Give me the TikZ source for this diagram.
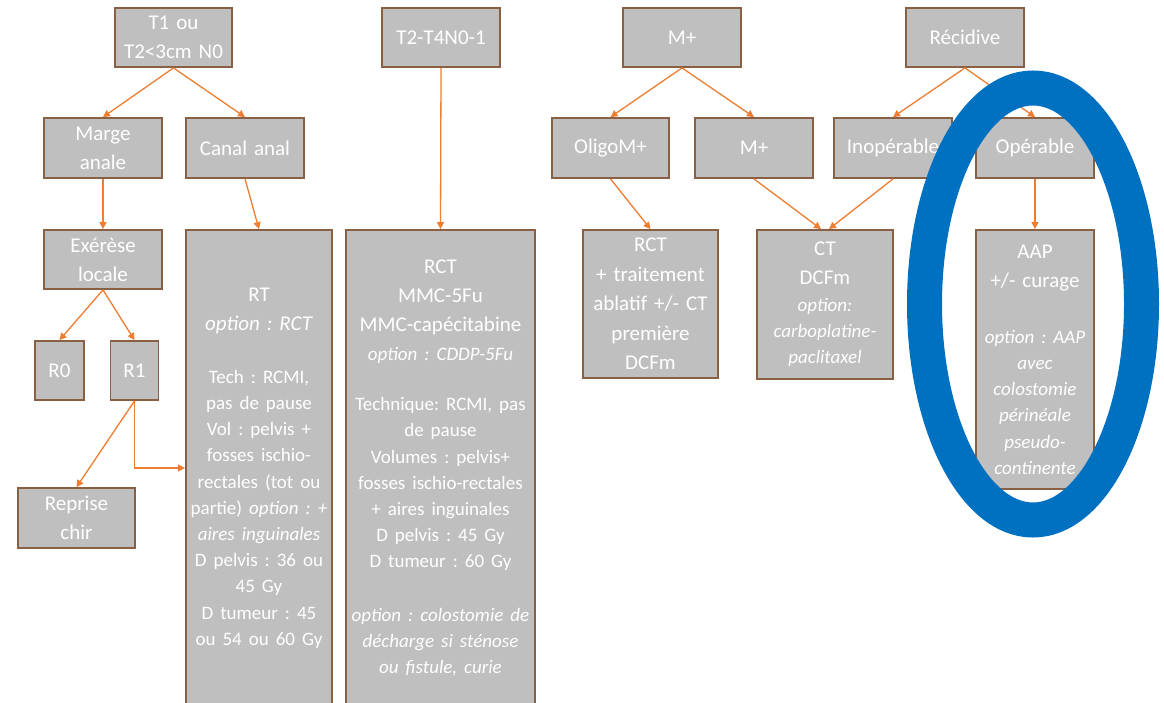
\documentclass[tikz,border=0pt]{standalone}
\usepackage{fontspec}
\setmainfont{Carlito}
\usetikzlibrary{arrows.meta}
\definecolor{boxgray}{RGB}{191,191,191}
\definecolor{boxline}{RGB}{137,96,68}
\definecolor{arrorange}{RGB}{237,125,49}
\definecolor{ringblue}{RGB}{0,112,192}
\newcommand{\hdfont}{\fontsize{21}{29}\selectfont\frenchspacing\hyphenpenalty=10000\relax}
\newcommand{\txtfont}{\fontsize{19}{26.2}\selectfont}

\begin{document}
\begin{tikzpicture}[x=1pt,y=-1pt,
	box/.style={draw=boxline,line width=1.8pt,fill=boxgray,text=white,inner sep=0pt,align=center,font=\hdfont},
	arr/.style={->,>={Triangle[length=7pt,width=7pt]},draw=arrorange,line width=1.3pt}]
	\useasboundingbox (0,0) rectangle (1164,703);
	\clip (0,0) rectangle (1164,703);

	%T1 branch
	\node[box,minimum width=117pt,minimum height=59pt,text width=111pt] (tun) at (173.5,37.5) {T1 ou\\T2<3cm N0};
	\node[box,minimum width=118pt,minimum height=60pt,text width=112pt] (marge) at (103,148) {Marge\\anale};
	\node[box,minimum width=118pt,minimum height=60pt,text width=112pt] (canal) at (245,148) {Canal anal};
	\node[box,minimum width=118pt,minimum height=59pt,text width=112pt] (exerese) at (103,259.5) {Exérèse\\locale};
	\node[box,minimum width=49pt,minimum height=59pt,text width=45pt] (rzero) at (59.5,370.5) {R0};
	\node[box,minimum width=48pt,minimum height=59pt,text width=44pt] (run) at (134.5,370.5) {R1};
	\node[box,minimum width=117pt,minimum height=60pt,text width=111pt] (reprise) at (76.5,518) {Reprise\\chir};
	\node[box,minimum width=146pt,minimum height=476pt,text width=144pt] (rt) at (259,468)
		{{RT\\ \textit{option : RCT}\par}\vspace{27pt}
		{\txtfont Tech : RCMI,\\ pas de pause\\ Vol : pelvis +\\ fosses ischio-\\ rectales (tot ou\\ partie) \textit{option : +}\\ \textit{aires inguinales}\\ D pelvis : 36 ou\\ 45 Gy\\ D tumeur : 45\\ ou 54 ou 60 Gy\par}};

	\draw[arr] (tun.south) -- (marge.north);
	\draw[arr] (tun.south) -- (canal.north);
	\draw[arr] (marge.south) -- (exerese.north);
	\draw[arr] (canal.south) -- (rt.north);
	\draw[arr] (exerese.south) -- (rzero.north);
	\draw[arr] (exerese.south) -- (run.north);
	\draw[arr] (run.south) -- (reprise.north);
	\draw[arr] (run.south) |- (rt.west);

	%T2-T4 branch
	\node[box,minimum width=118pt,minimum height=59pt,text width=112pt] (tdeux) at (441,37.5) {T2-T4N0-1};
	\node[box,minimum width=189pt,minimum height=476pt,text width=185pt] (rct) at (440.5,468)
		{{RCT\\ MMC-5Fu\\ MMC-capécitabine\par}
		{\fontsize{19}{29}\selectfont\itshape option : CDDP-5Fu\par}\vspace{24pt}
		{\txtfont Technique: RCMI, pas\\ de pause\\ Volumes : pelvis+\\ fosses ischio-rectales\\ + aires inguinales\\ D pelvis : 45 Gy\\ D tumeur : 60 Gy\par}\vspace{27pt}
		{\txtfont\itshape option : colostomie de\\ décharge si sténose\\ ou fistule, curie\par}};
	\draw[arr] (tdeux.south) -- (rct.north);

	%M+ branch
	\node[box,minimum width=118pt,minimum height=59pt,text width=112pt] (mplus) at (682,37.5) {M+};
	\node[box,minimum width=117pt,minimum height=60pt,text width=111pt] (oligo) at (610.5,148) {OligoM+};
	\node[box,minimum width=118pt,minimum height=60pt,text width=112pt] (mdeux) at (754,148) {M+};
	\node[box,minimum width=135pt,minimum height=148pt,text width=131pt] (rctoligo) at (650.5,304)
		{\fontsize{21}{29.5}\selectfont RCT\\ + traitement\\ ablatif +/- CT\\ première\\ DCFm\par};
	\node[box,minimum width=136pt,minimum height=149pt,text width=132pt] (ct) at (825,304.5)
		{{CT\\ DCFm\par}
		{\txtfont\itshape option:\\ carboplatine-\\ paclitaxel\par}};
	\draw[arr] (mplus.south) -- (oligo.north);
	\draw[arr] (mplus.south) -- (mdeux.north);
	\draw[arr] (oligo.south) -- (rctoligo.north);
	\draw[arr] (mdeux.south) -- ([xshift=-4pt]ct.north);

	%recidive branch
	\node[box,minimum width=118pt,minimum height=59pt,text width=112pt] (recid) at (965,37.5) {Récidive};
	\node[box,minimum width=118pt,minimum height=60pt,text width=112pt] (inop) at (893,148) {Inopérable};
	\node[box,minimum width=118pt,minimum height=60pt,text width=112pt] (oper) at (1035,148) {Opérable};
	\node[box,minimum width=118pt,minimum height=259pt,text width=114pt] (aap) at (1035,359.5)
		{{AAP\\ +/- curage\par}\vspace{30pt}
		{\txtfont\itshape option : AAP\\ avec\\ colostomie\\ périnéale\\ pseudo-\\ continente\par}};
	\draw[arr] (recid.south) -- (inop.north);
	\draw[arr] (recid.south) -- (oper.north);
	\draw[arr] (inop.south) -- ([xshift=4pt]ct.north);
	\draw[arr] (oper.south) -- (aap.north);

	%highlight ring
	\draw[ringblue,line width=35pt] (1033,304) ellipse (108.5 and 216);
\end{tikzpicture}
\end{document}
